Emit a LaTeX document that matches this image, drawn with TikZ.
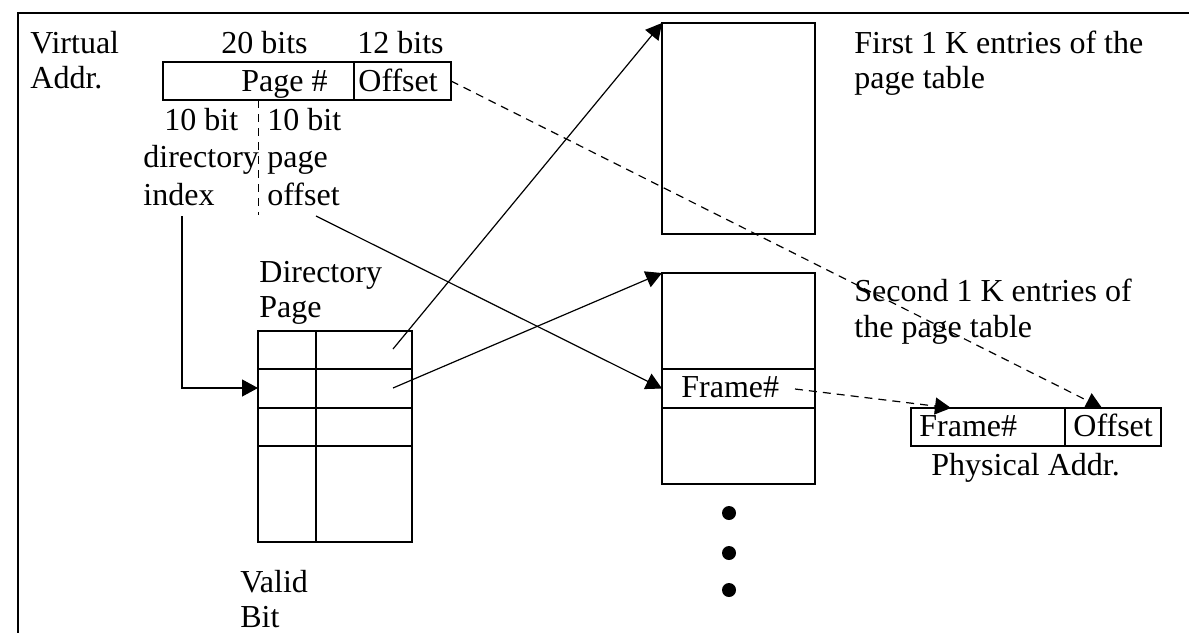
\documentclass[tikz,border=0pt]{standalone}
\usepackage{fontspec}
\setmainfont{Liberation Serif}
\usetikzlibrary{arrows.meta}
\begin{document}
\begin{tikzpicture}[x=0.5pt,y=-0.5pt,
  lbl/.style={inner sep=0pt, anchor=base west, font=\fontsize{16}{19}\selectfont},
  cell/.style={draw, line width=0.6pt, inner sep=0pt, outer sep=0pt, anchor=north west},
  rule/.style={line width=0.6pt},
  arr/.style={line width=0.6pt, -{Triangle[length=8pt,width=8.5pt]}},
  darr/.style={arr, dash pattern=on 4pt off 3pt},
  dline/.style={line width=0.6pt, dash pattern=on 4pt off 3pt},
  frame/.style={line width=1.3pt},
  dotmark/.style={circle, fill, inner sep=0pt, minimum size=7pt}]
\useasboundingbox (0,0) rectangle (1189,632);
% outer frame
\draw[frame] (18,640) -- (18,13) -- (1200,13);

% virtual address
\node[cell, minimum width=95.5pt, minimum height=19pt] (vpage) at (163,62) {};
\node[cell, minimum width=48.5pt, minimum height=19pt] (voff) at (354,62) {};
\node[lbl] (tvirt1) at (30,53) {Virtual};
\node[lbl] (tvirt2) at (30,88) {Addr.};
\node[lbl] (t20) at (221,53) {20 bits};
\node[lbl] (t12) at (357,53) {12 bits};
\node[lbl] (tpage) at (241,91) {Page \#};
\node[lbl] (toff) at (358,91) {Offset};
\coordinate (splitend) at (258.5,215);
\draw[dline] (vpage.south) -- (splitend);
\node[lbl] (t10a) at (164,130) {10 bit};
\node[lbl] (tdir) at (143,167) {directory};
\node[lbl] (tidx) at (143,205) {index};
\node[lbl] (t10b) at (267,130) {10 bit};
\node[lbl] (tpg) at (267,167) {page};
\node[lbl] (tpo) at (267,205) {offset};

% directory page
\node[lbl] (tdp1) at (259,282) {Directory};
\node[lbl] (tdp2) at (259,317) {Page};
\node[cell, minimum width=77pt, minimum height=105.5pt] (dir) at (258,331) {};
\draw[rule] (316,331) -- (316,542);
\draw[rule] (258,369) -- (412,369);
\draw[rule] (258,408) -- (412,408);
\draw[rule] (258,446) -- (412,446);
\node[lbl] (tv1) at (240,592) {Valid};
\node[lbl] (tv2) at (240,627) {Bit};

% page tables
\node[cell, minimum width=76.5pt, minimum height=105.5pt] (pt1) at (662,23) {};
\node[lbl] (tf1) at (854,53) {First 1 K entries of the};
\node[lbl] (tf2) at (854,88) {page table};
\node[cell, minimum width=76.5pt, minimum height=105.5pt] (pt2) at (662,273) {};
\node[cell, minimum width=76.5pt, minimum height=19.5pt] (frow) at (662,369) {};
\node[lbl] (tfr) at (681,397) {Frame\#};
\node[lbl] (ts1) at (854,301) {Second 1 K entries of};
\node[lbl] (ts2) at (854,337) {the page table};
\node[dotmark] (dot1) at (729,513) {};
\node[dotmark] (dot2) at (729,553) {};
\node[dotmark] (dot3) at (729,590) {};

% physical address
\node[cell, minimum width=77pt, minimum height=19pt] (pfr) at (911,408) {};
\node[cell, minimum width=48pt, minimum height=19pt] (pof) at (1065,408) {};
\node[lbl] (tpf) at (919,436) {Frame\#};
\node[lbl] (tpoff) at (1073,436) {Offset};
\node[lbl] (tphys) at (931,475) {Physical Addr.};

% connectors
\coordinate (didx) at (182,216);
\coordinate (dirin) at (258,388);
\draw[arr] (didx) |- (dirin);
\coordinate (e1) at (393,349);
\coordinate (e2) at (393,388);
\draw[arr] (e1) -- (pt1.north west);
\draw[arr] (e2) -- (pt2.north west);
\coordinate (poff) at (316,216);
\draw[arr] (poff) -- (frow.west);
\coordinate (pofin) at (1102,408);
\draw[darr] (voff.east) -- (pofin);
\coordinate (fsrc) at (795,389);
\coordinate (pfin) at (951,408);
\draw[darr] (fsrc) -- (pfin);
\end{tikzpicture}
\end{document}
